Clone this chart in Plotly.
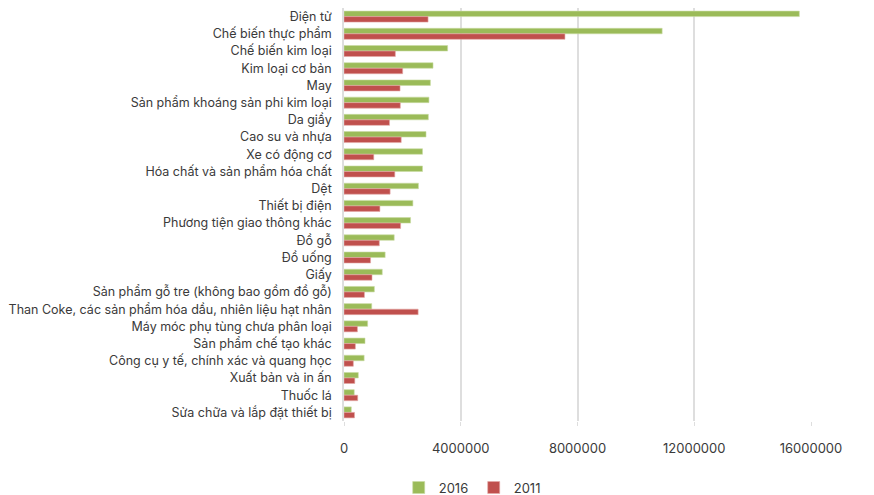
import plotly.graph_objects as go

categories = [
    "Điện tử", "Chế biến thực phẩm", "Chế biến kim loại", "Kim loại cơ bản", "May",
    "Sản phẩm khoáng sản phi kim loại", "Da giầy", "Cao su và nhựa", "Xe có động cơ",
    "Hóa chất và sản phẩm hóa chất", "Dệt", "Thiết bị điện", "Phương tiện giao thông khác",
    "Đồ gỗ", "Đồ uống", "Giấy", "Sản phẩm gỗ tre (không bao gồm đồ gỗ)",
    "Than Coke, các sản phẩm hóa dầu, nhiên liệu hạt nhân", "Máy móc phụ tùng chưa phân loại",
    "Sản phẩm chế tạo khác", "Công cụ y tế, chính xác và quang học", "Xuất bản và in ấn",
    "Thuốc lá", "Sửa chữa và lắp đặt thiết bị",
]
values_2016 = [15600000, 10900000, 3550000, 3050000, 2960000, 2910000, 2890000, 2810000,
               2690000, 2690000, 2550000, 2360000, 2280000, 1720000, 1410000, 1310000,
               1040000, 950000, 810000, 720000, 690000, 490000, 350000, 250000]
values_2011 = [2880000, 7570000, 1760000, 2010000, 1920000, 1930000, 1560000, 1960000,
               1020000, 1740000, 1580000, 1230000, 1940000, 1210000, 910000, 960000,
               700000, 2540000, 460000, 390000, 320000, 370000, 470000, 360000]
x_ticks = [0, 4000000, 8000000, 12000000, 16000000]

fig = go.Figure()
fig.add_trace(go.Bar(y=categories, x=values_2016, name="2016", orientation="h",
                     marker=dict(color="#9BBB59", line=dict(color="#C9DCA5", width=0.6))))
fig.add_trace(go.Bar(y=categories, x=values_2011, name="2011", orientation="h",
                     marker=dict(color="#C0504D", line=dict(color="#E4A9A7", width=0.6))))

fig.update_layout(
    width=874, height=495,
    margin=dict(l=344, r=63, t=8, b=74),
    paper_bgcolor="white", plot_bgcolor="white",
    barmode="group", bargap=0.36, bargroupgap=0,
    font=dict(family="Inter, Roboto, sans-serif", size=12.5, color="#3A3A3A"),
    showlegend=True,
    legend=dict(orientation="h", xref="container", yref="container",
                x=0.542, xanchor="center", y=0.015, yanchor="middle",
                font=dict(size=13, color="#3A3A3A"), itemwidth=30,
                entrywidth=30, entrywidthmode="pixels",
                tracegroupgap=0),
)
fig.update_xaxes(range=[0, 16000000], tickvals=x_ticks, tickformat="d",
                 showgrid=True, gridcolor="#DEDEDE", gridwidth=1.5,
                 zeroline=False, showline=False, automargin=False,
                 ticks="outside", ticklen=4, tickcolor="#DEDEDE",
                 ticklabelstandoff=11, tickfont=dict(size=13))
fig.update_yaxes(autorange="reversed", showgrid=False, showline=True, automargin=False,
                 linecolor="#DEDEDE", linewidth=1.5, ticks="", ticklabelstandoff=8)

fig.write_html("out.html")
